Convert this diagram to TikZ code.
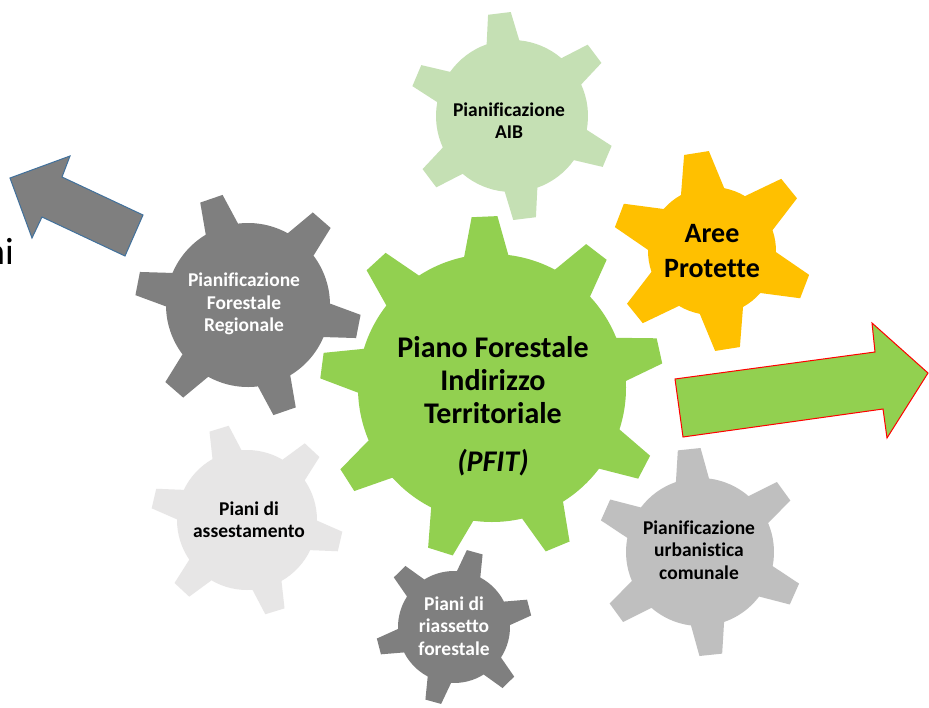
\documentclass[tikz,border=0pt]{standalone}
\usepackage{fontspec}
\setmainfont{Carlito}[Ligatures={NoCommon}]
\definecolor{pgreen}{HTML}{92D050}
\definecolor{paib}{HTML}{C5E0B4}
\definecolor{paree}{HTML}{FFC000}
\definecolor{pdark}{HTML}{7F7F7F}
\definecolor{plight}{HTML}{E7E6E6}
\definecolor{pmid}{HTML}{BFBFBF}
\definecolor{pblue}{HTML}{41719C}
% #1 colour, #2 cx, #3 cy, #4 teeth, #5 rotation, #6 outer R, #7 body r, #8 tip half-angle, #9 base half-angle
\newcommand\mygear[9]{%
  \pgfmathsetmacro\gstep{360/#4}%
  \pgfmathtruncatemacro\glast{#4-1}%
  \fill[#1,shift={(#2,#3)}] ({#5-#9}:#7)
    \foreach \k in {0,...,\glast}{
      -- ({#5+\k*\gstep-#8}:#6) -- ({#5+\k*\gstep+#8}:#6) -- ({#5+\k*\gstep+#9}:#7)
      arc[start angle={#5+\k*\gstep+#9}, end angle={#5+(\k+1)*\gstep-#9}, radius=#7]
    } -- cycle;
}
\tikzset{
  smalltxt/.style={align=center,font=\fontsize{19.5}{22.3}\selectfont\bfseries},
  arrowshape/.style={line width=1pt,line join=miter},
}
\begin{document}
\begin{tikzpicture}[x=1pt,y=-1pt]
\useasboundingbox (0,0) rectangle (929,707);
\fill[white] (0,0) rectangle (929,707);
% gears
\mygear{paib}{512}{116}{6}{23}{104}{76}{6.3}{12.5}
\mygear{paree}{712}{251}{6}{21}{100}{64}{7.2}{20}
\mygear{pdark}{248}{305}{6}{11}{113}{82}{6}{12}
\mygear{plight}{247}{520}{6}{13}{96}{70}{6}{12.5}
\mygear{pmid}{700}{552}{6}{24}{104}{74}{6.3}{13}
\mygear{pdark}{454}{627}{6}{45.5}{78}{56}{6}{12.5}
\mygear{pgreen}{492}{388}{9}{-12.5}{172}{134}{4.3}{9.5}
% arrows
\filldraw[arrowshape,fill=pdark,draw=pblue] (10,178) -- (70,156) -- (62,177) -- (143,215) -- (125,256) -- (42,217) -- (32,238) -- cycle;
\filldraw[arrowshape,fill=pgreen,draw=red] (675,379) -- (875,352) -- (872,323) -- (928,373) -- (887,438) -- (883,409) -- (683,437) -- cycle;
% texts
\node[align=center,font=\fontsize{30}{33}\selectfont\bfseries] (pfit) at (493,406)
  {Piano Forestale\\Indirizzo\\Territoriale\\[15pt]\textit{(PFIT)}};
\node[align=center,font=\fontsize{28}{35}\selectfont\bfseries] (aree) at (712,251) {Aree\\Protette};
\node[smalltxt] (aib) at (509,121) {Pianificazione\\AIB};
\node[smalltxt,text=white] (reg) at (244,304) {Pianificazione\\Forestale\\Regionale};
\node[smalltxt] (urb) at (699,550) {Pianificazione\\urbanistica\\comunale};
\node[smalltxt] (ass) at (249,520) {Piani di\\assestamento};
\node[smalltxt,text=white] (ria) at (454,626) {Piani di\\riassetto\\forestale};
\node[anchor=base east,font=\fontsize{38}{40}\selectfont,inner sep=0pt] (ni) at (14,264) {ni};
\end{tikzpicture}
\end{document}
